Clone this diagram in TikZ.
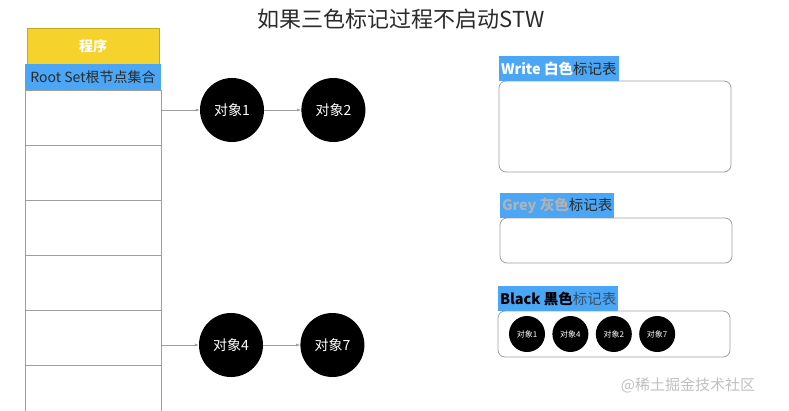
\documentclass[tikz,border=0pt]{standalone}
\usepackage{fontspec}
\setmainfont{Noto Sans CJK SC}
\usepackage{xcolor}
\definecolor{tcmblue}{HTML}{4BA6F5}
\definecolor{tcmyellow}{HTML}{F5D22C}
\definecolor{tcmline}{HTML}{9E9E9E}
\definecolor{tcmtext}{HTML}{2A2A2A}
\usepackage{tikz}
\usetikzlibrary{arrows.meta,positioning}
\tikzset{
  tcmcell/.style={draw=tcmline,line width=0.8pt,minimum width=136pt,minimum height=55pt,inner sep=0pt,outer sep=0pt},
  tcmobj/.style={circle,fill=black,minimum size=64pt,inner sep=0pt,text=white,font=\fontsize{14}{16}\selectfont},
  tcmsmall/.style={circle,fill=black,minimum size=36pt,inner sep=0pt,text=white,font=\fontsize{8}{9}\selectfont},
  tcmtable/.style={draw=tcmline,line width=0.8pt,rounded corners=7pt,minimum width=232pt,inner sep=0pt,outer sep=0pt},
  tcmlabel/.style={fill=tcmblue,minimum height=25pt,inner sep=2pt,outer sep=0pt,text=tcmtext,font=\fontsize{14.5}{16}\selectfont},
  tcmflow/.style={-{Latex[length=4pt,width=3pt]},draw=tcmline,line width=0.6pt},
}

\begin{document}
\begin{tikzpicture}[x=1pt,y=-1pt,node distance=37pt]
\useasboundingbox (0,0) rectangle (789,410);
 % title
\node[text=tcmtext,font=\fontsize{22}{26}\selectfont] (title) at (401,19) {如果三色标记过程不启动STW};
 % program stack
\node[fill=tcmyellow,draw=tcmyellow!80!black,minimum width=132pt,minimum height=36pt,inner sep=0pt,outer sep=0pt,
  text=white,font=\bfseries\fontsize{14}{16}\selectfont] (prog) at (93,46) {程序};
\node[fill=tcmblue,minimum width=136pt,minimum height=26pt,inner sep=0pt,outer sep=0pt,text=tcmtext,
  font=\fontsize{14}{16}\selectfont,below=0pt of prog] (root) {Root Set根节点集合};
\node[tcmcell,below=0pt of root] (c1) {};
\foreach \i [remember=\i as \j (initially 1)] in {2,...,6}
  \node[tcmcell,below=0pt of c\j] (c\i) {};
 % reachable objects
\node[tcmobj] (o1) at (232,110) {对象1};
\node[tcmobj,right=of o1] (o2) {对象2};
\node[tcmobj] (o4) at (231,345) {对象4};
\node[tcmobj,right=of o4] (o7) {对象7};
\draw[tcmflow] (c1.east |- o1) -- (o1);
\draw[tcmflow] (o1) -- (o2);
\draw[tcmflow] (c5.east |- o4) -- (o4);
\draw[tcmflow] (o4) -- (o7);
 % mark tables
\node[tcmtable,minimum height=91pt,anchor=north west] (wtab) at (499,81) {};
\node[tcmlabel,anchor=south west] (wlab) at (wtab.north west) {\textcolor{white}{\bfseries Write 白色}标记表};
\node[tcmtable,minimum height=45pt,anchor=north west] (gtab) at (500,218) {};
\node[tcmlabel,anchor=south west] (glab) at (gtab.north west) {\textcolor{gray!60}{\bfseries Grey 灰色}标记表};
\node[tcmtable,minimum height=46pt,anchor=north west] (btab) at (498,311) {};
\node[tcmlabel,anchor=south west] (blab) at (btab.north west) {\textcolor{black}{\bfseries Black 黑色}\textcolor{tcmtext!70!tcmblue}{标记表}};
\node[tcmsmall] (b1) at (527,334) {对象1};
\node[tcmsmall,right=7pt of b1] (b4) {对象4};
\node[tcmsmall,right=7pt of b4] (b2) {对象2};
\node[tcmsmall,right=7pt of b2] (b7) {对象7};
 % watermark
\node[text=gray!50,font=\fontsize{15}{18}\selectfont] (wm) at (688,385) {@稀土掘金技术社区};
\end{tikzpicture}
\end{document}
